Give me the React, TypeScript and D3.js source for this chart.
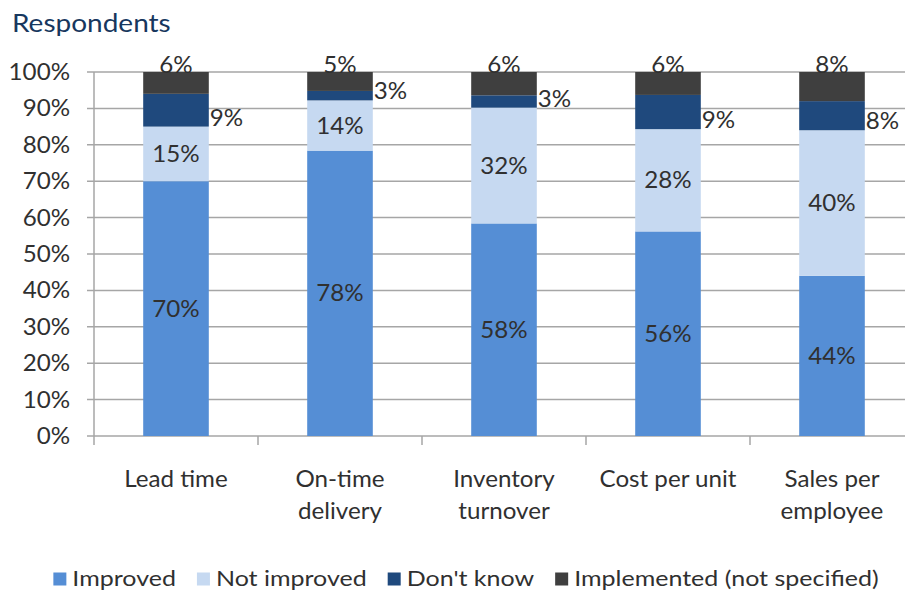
import React, { useEffect, useRef } from "react";
import * as d3 from "d3";

const categories = ["Lead time", "On-time delivery", "Inventory turnover", "Cost per unit", "Sales per employee"];
const categoryLines = [["Lead time"], ["On-time", "delivery"], ["Inventory", "turnover"], ["Cost per unit"], ["Sales per", "employee"]];
const seriesNames = ["Improved", "Not improved", "Don't know", "Implemented (not specified)"];
const improved = [70, 78.4, 58.4, 56.2, 44];
const notImproved = [15, 13.8, 31.8, 28.1, 40];
const dontKnow = [9, 2.6, 3.4, 9.4, 8];
const implemented = [6, 5.2, 6.4, 6.3, 8];
const yTicks = [0, 10, 20, 30, 40, 50, 60, 70, 80, 90, 100];
const colors = ["#558ED5", "#C6D9F1", "#1F497D", "#3F3F3F"];

const W = 905, H = 592;
const FONT = "Lato, 'Open Sans', sans-serif";
const TXT = "#303030";

export default function App() {
  const ref = useRef<SVGSVGElement>(null);
  useEffect(() => {
    const svg = d3.select(ref.current);
    svg.selectAll("*").remove();
    const left = 94, right = 914, top = 72, bottom = 436;
    const x = d3.scaleBand<string>().domain(categories).range([left, right]).paddingInner(0.6).paddingOuter(0.3);
    const y = d3.scaleLinear().domain([0, 100]).range([bottom, top]);
    const rows = categories.map((c, i) => ({ cat: c, s0: improved[i], s1: notImproved[i], s2: dontKnow[i], s3: implemented[i] }));
    const stack = d3.stack<any>().keys(["s0", "s1", "s2", "s3"]);
    const series = stack(rows);

    const txt = (parent: any, tx: number, ty: number, s: string, fs: number, sx: number, anchor: string, dy = "0", fill = TXT) =>
      parent.append("text").attr("transform", `translate(${tx},${ty}) scale(${sx},1)`)
        .attr("font-family", FONT).attr("font-size", fs).attr("fill", fill)
        .attr("text-anchor", anchor).attr("dy", dy).text(s);

    txt(svg, 12, 32, "Respondents", 25, 1.12, "start", "0", "#17375E");

    // gridlines
    const g = svg.append("g");
    g.selectAll("line.grid").data(yTicks).join("line")
      .attr("x1", 87).attr("x2", W).attr("y1", d => y(d)).attr("y2", d => y(d))
      .attr("stroke", "#A6A6A6").attr("stroke-width", 1.5);
    g.append("line").attr("x1", left).attr("x2", left).attr("y1", top).attr("y2", bottom + 9)
      .attr("stroke", "#A6A6A6").attr("stroke-width", 1.5);
    const step = x.step();
    g.selectAll("line.ct").data(categories.slice(1)).join("line")
      .attr("x1", (d) => (x(d) as number) - step * 0.3).attr("x2", (d) => (x(d) as number) - step * 0.3)
      .attr("y1", bottom).attr("y2", bottom + 9).attr("stroke", "#A6A6A6").attr("stroke-width", 1.5);

    yTicks.forEach(d => txt(g, 70, y(d), d + "%", 23, 1.05, "end", "0.35em"));

    // bars
    series.forEach((s, si) => {
      svg.append("g").selectAll("rect").data(s).join("rect")
        .attr("x", (d: any) => x(d.data.cat) as number).attr("width", x.bandwidth())
        .attr("y", (d: any) => y(d[1])).attr("height", (d: any) => y(d[0]) - y(d[1]))
        .attr("fill", colors[si]);
    });

    // labels
    const lab = svg.append("g");
    series.forEach((s, si) => {
      s.forEach((d: any) => {
        const v = Math.round(d[1] - d[0]) + "%";
        const bx = x(d.data.cat) as number;
        const bw = x.bandwidth();
        if (si < 2) txt(lab, bx + bw / 2, y((d[0] + d[1]) / 2), v, 23, 1.05, "middle", "0.35em");
        else if (si === 2) txt(lab, bx + bw + 1, y(d[0]) - 1, v, 23, 1.05, "start");
        else txt(lab, bx + bw / 2, y(d[1]) + 1, v, 23, 1.05, "middle");
      });
    });

    // category labels
    categories.forEach((c, i) => {
      categoryLines[i].forEach((ln, li) => {
        txt(svg, (x(c) as number) + x.bandwidth() / 2, 487 + li * 32, ln, 23, 1.05, "middle");
      });
    });

    // legend
    const lg = svg.append("g");
    const sxL = 1.22;
    const items = seriesNames.map((n, i) => {
      const gi = lg.append("g");
      gi.append("rect").attr("width", 13).attr("height", 13).attr("y", -6.5).attr("fill", colors[i]);
      const t = txt(gi, 19, 0, n, 20.5, sxL, "start", "0.35em");
      const w = 19 + (t.node() as SVGTextElement).getComputedTextLength() * sxL;
      return { gi, w };
    });
    const gap = 21;
    const total = d3.sum(items, d => d.w) + gap * (items.length - 1);
    let cx = 466 - total / 2;
    items.forEach(it => { it.gi.attr("transform", `translate(${cx},579)`); cx += it.w + gap; });
  }, []);
  return (
    <svg ref={ref} width={W} height={H} style={{ position: "absolute", left: 0, top: 0, background: "#fff" }} />
  );
}
